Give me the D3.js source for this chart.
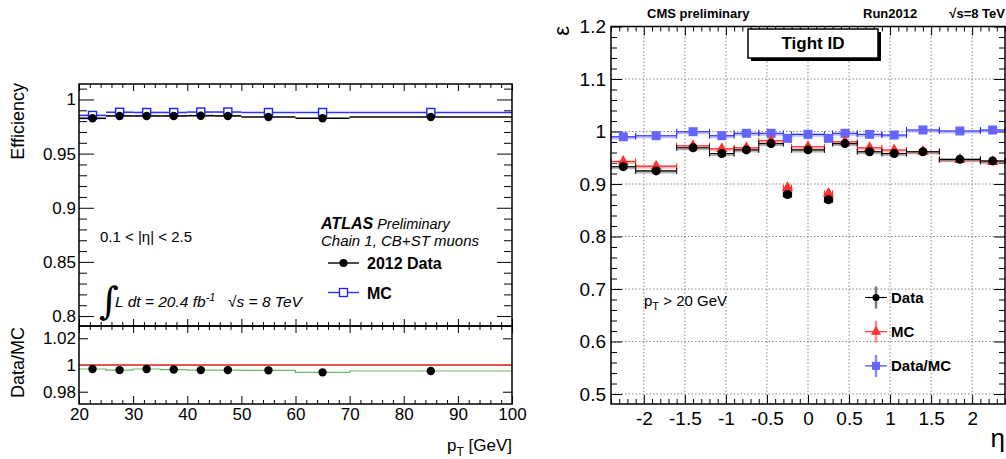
<!DOCTYPE html>
<html><head><meta charset="utf-8">
<script src="https://cdn.jsdelivr.net/npm/d3@7"></script>
<style>
body{margin:0;background:#fff;}
svg{font-family:"Liberation Sans",Arial,Helvetica,sans-serif;}
</style></head>
<body>
<script>
// ---------- Left chart data (ATLAS, efficiency vs pT) ----------
const ptEdges   = [20,25,30,35,40,45,50,60,70,100];
const ptCenters = [22.5,27.5,32.5,37.5,42.5,47.5,55,65,85];
const effData   = [0.9826,0.9848,0.9848,0.9848,0.9850,0.9848,0.9838,0.9826,0.9838];
const effMC     = [0.9853,0.9882,0.9880,0.9880,0.9884,0.9884,0.9880,0.9880,0.9880];
const ratioPt   = [0.9970,0.9962,0.9970,0.9966,0.9962,0.9962,0.9960,0.9945,0.9955];
const ptTicks   = [20,30,40,50,60,70,80,90,100];
const effTicks  = [0.8,0.85,0.9,0.95,1];
const effLabels = ["0.8","0.85","0.9","0.95","1"];
const ratTicks  = [0.98,1,1.02];
const ratLabels = ["0.98","1","1.02"];

// ---------- Right chart data (CMS, efficiency vs eta) ----------
const etaEdges  = [-2.4,-2.1,-1.6,-1.2,-0.9,-0.6,-0.3,-0.2,0.2,0.3,0.6,0.9,1.2,1.6,2.1,2.4];
const etaData   = [0.933,0.925,0.969,0.958,0.965,0.977,0.880,0.965,0.870,0.977,0.9615,0.958,0.9615,0.947,0.944];
const etaMC     = [0.943,0.934,0.973,0.967,0.969,0.9825,0.893,0.971,0.882,0.9805,0.969,0.9648,0.962,0.946,0.9425];
const etaRatio  = [0.990,0.992,0.9996,0.992,0.9966,0.9966,0.987,0.9946,0.987,0.9966,0.9946,0.9933,1.0029,1.001,1.0029];
const etaTicks  = [-2,-1.5,-1,-0.5,0,0.5,1,1.5,2];
const etaLabels = ["-2","-1.5","-1","-0.5","0","0.5","1","1.5","2"];
const epsTicks  = [0.5,0.6,0.7,0.8,0.9,1,1.1,1.2];
const epsLabels = ["0.5","0.6","0.7","0.8","0.9","1","1.1","1.2"];

const svg = d3.select("body").append("svg").attr("width",1006).attr("height",459);

function rng(a,b,step){const n=Math.round((b-a)/step);return d3.range(n+1).map(i=>+(a+i*step).toFixed(6));}
function minorsOf(a,b,step,majors){return rng(a,b,step).filter(v=>!majors.some(m=>Math.abs(m-v)<1e-9));}

// generic inward tick drawer using d3 axes
function axisTicks(g, axisGen, scale, values, len, pos, labels, pad, fs){
  const ax = axisGen(scale).tickValues(values).tickSizeInner(-len).tickSizeOuter(0).tickPadding(pad||0)
    .tickFormat(labels ? ((d,i)=>labels[i]) : "");
  const a = g.append("g").attr("transform",pos).call(ax);
  a.select(".domain").remove();
  a.selectAll("line").attr("stroke","#000").attr("stroke-width",1);
  a.selectAll("text").attr("font-size",fs||17).attr("fill","#000").attr("font-family","'Liberation Sans',Arial,sans-serif");
  a.attr("font-family",null).attr("font-size",null);
  return a;
}

// =================== LEFT =====================
const xL = d3.scaleLinear().domain([20,100]).range([79,512]);
const yT = d3.scaleLinear().domain([0.7908,1.0143]).range([326,84]);
const yB = d3.scaleLinear().domain([0.9708,1.0292]).range([404,326]);
const L = svg.append("g");

// ticks top panel
const ptMin = minorsOf(20,100,2,ptTicks);
axisTicks(L,d3.axisTop,xL,ptTicks,7,"translate(0,84)");
axisTicks(L,d3.axisTop,xL,ptMin,4,"translate(0,84)");
axisTicks(L,d3.axisBottom,xL,ptTicks,7,"translate(0,326)");
axisTicks(L,d3.axisBottom,xL,ptMin,4,"translate(0,326)");
const effMin = minorsOf(0.79,1.01,0.01,effTicks).filter(v=>v>0.7908);
axisTicks(L,d3.axisLeft,yT,effTicks,15,"translate(79,0)",effLabels,3,17);
axisTicks(L,d3.axisLeft,yT,effMin,8,"translate(79,0)");
axisTicks(L,d3.axisRight,yT,effTicks,15,"translate(512,0)");
axisTicks(L,d3.axisRight,yT,effMin,8,"translate(512,0)");
// ticks bottom panel
axisTicks(L,d3.axisTop,xL,ptTicks,7,"translate(0,326)");
axisTicks(L,d3.axisTop,xL,ptMin,4,"translate(0,326)");
axisTicks(L,d3.axisBottom,xL,ptTicks,8,"translate(0,404)",ptTicks.map(String),4,17);
axisTicks(L,d3.axisBottom,xL,ptMin,4,"translate(0,404)");
axisTicks(L,d3.axisLeft,yB,ratTicks,9,"translate(79,0)",ratLabels,3,17);
axisTicks(L,d3.axisRight,yB,ratTicks,9,"translate(512,0)");

// data: horizontal bin lines
const binsL = ptCenters.map((c,i)=>({x0:ptEdges[i],x1:ptEdges[i+1],c,d:effData[i],m:effMC[i],r:ratioPt[i]}));
L.selectAll(".mcl").data(binsL).join("line").attr("x1",d=>xL(d.x0)).attr("x2",d=>xL(d.x1))
  .attr("y1",d=>yT(d.m)).attr("y2",d=>yT(d.m)).attr("stroke","#3030ff").attr("stroke-width",1.6);
L.selectAll(".dl").data(binsL).join("line").attr("x1",d=>xL(d.x0)).attr("x2",d=>xL(d.x1))
  .attr("y1",d=>yT(d.d)).attr("y2",d=>yT(d.d)).attr("stroke","#000").attr("stroke-width",1.6);
L.selectAll(".mcs").data(binsL).join("rect").attr("x",d=>xL(d.c)-4).attr("y",d=>yT(d.m)-4)
  .attr("width",8).attr("height",8).attr("fill","#fff").attr("stroke","#2020ff").attr("stroke-width",1.4);
L.selectAll(".dc").data(binsL).join("circle").attr("cx",d=>xL(d.c)).attr("cy",d=>yT(d.d)).attr("r",4.2).attr("fill","#000");

// ratio panel
L.append("rect").attr("x",79).attr("y",yB(1)).attr("width",433).attr("height",yB(0.9994)-yB(1)).attr("fill","#f6c8c8");
L.append("line").attr("x1",79).attr("x2",512).attr("y1",yB(1)).attr("y2",yB(1)).attr("stroke","#e02020").attr("stroke-width",1.4);
const stepPts=[];binsL.forEach(d=>{stepPts.push([d.x0,d.r]);stepPts.push([d.x1,d.r]);});
L.append("path").datum(stepPts).attr("d",d3.line().x(p=>xL(p[0])).y(p=>yB(p[1])))
  .attr("fill","none").attr("stroke","#66bb66").attr("stroke-width",1.2);
L.selectAll(".rc").data(binsL).join("circle").attr("cx",d=>xL(d.c)).attr("cy",d=>yB(d.r)).attr("r",4.2).attr("fill","#000");

// frames
L.append("rect").attr("x",79).attr("y",84).attr("width",433).attr("height",242).attr("fill","none").attr("stroke","#000").attr("stroke-width",1.5);
L.append("rect").attr("x",79).attr("y",326).attr("width",433).attr("height",78).attr("fill","none").attr("stroke","#000").attr("stroke-width",1.5);

// titles
L.append("text").attr("transform","translate(24,83) rotate(-90)").attr("text-anchor","end").attr("font-size",18).text("Efficiency");
L.append("text").attr("transform","translate(24,327) rotate(-90)").attr("text-anchor","end").attr("font-size",18).text("Data/MC");
const ptT = L.append("text").attr("x",512).attr("y",451).attr("text-anchor","end").attr("font-size",17);
ptT.append("tspan").text("p");ptT.append("tspan").attr("font-size",12).attr("dy",5).text("T");
ptT.append("tspan").attr("dy",-5).text(" [GeV]");

// annotations
L.append("text").attr("x",100).attr("y",242).attr("font-size",15).text("0.1 < |η| < 2.5");
const at = L.append("text").attr("x",321).attr("y",229).attr("font-size",16).attr("font-style","italic");
at.append("tspan").attr("font-weight","bold").text("ATLAS");
at.append("tspan").attr("font-size",14.5).text(" Preliminary");
L.append("text").attr("x",321).attr("y",246).attr("font-size",15).attr("font-style","italic").text("Chain 1, CB+ST muons");
// legend
L.append("line").attr("x1",328).attr("x2",359).attr("y1",263).attr("y2",263).attr("stroke","#000").attr("stroke-width",1.4);
L.append("circle").attr("cx",343.5).attr("cy",263).attr("r",4).attr("fill","#000");
L.append("text").attr("x",367).attr("y",269).attr("font-size",16).attr("font-weight","bold").text("2012 Data");
L.append("line").attr("x1",328).attr("x2",359).attr("y1",292.5).attr("y2",292.5).attr("stroke","#3030ff").attr("stroke-width",1.4);
L.append("rect").attr("x",339.5).attr("y",288.5).attr("width",8).attr("height",8).attr("fill","#fff").attr("stroke","#2020ff").attr("stroke-width",1.3);
L.append("text").attr("x",367).attr("y",298.5).attr("font-size",16).attr("font-weight","bold").text("MC");
// lumi
L.append("text").attr("x",99).attr("y",314).attr("font-size",38).attr("font-family","'DejaVu Serif',serif").attr("font-style","italic").text("∫");
const lu = L.append("text").attr("x",115).attr("y",307).attr("font-size",15.5).attr("font-style","italic");
lu.append("tspan").text("L dt = 20.4 fb");
lu.append("tspan").attr("font-size",11).attr("dy",-6).text("-1");
lu.append("tspan").attr("dy",6).attr("x",228).text("√");
lu.append("tspan").text("s = 8 TeV");

// =================== RIGHT =====================
const xR = d3.scaleLinear().domain([-2.4,2.4]).range([611,1005]);
const yR = d3.scaleLinear().domain([0.481,1.2]).range([404,26.5]);
const R = svg.append("g");

// grid
R.selectAll(".gx").data(etaTicks).join("line").attr("x1",d=>xR(d)).attr("x2",d=>xR(d)).attr("y1",26.5).attr("y2",404)
  .attr("stroke","#888").attr("stroke-width",1).attr("stroke-dasharray","1.5,2");
R.selectAll(".gy").data(epsTicks.slice(0,-1)).join("line").attr("x1",611).attr("x2",1005).attr("y1",d=>yR(d)).attr("y2",d=>yR(d))
  .attr("stroke","#888").attr("stroke-width",1).attr("stroke-dasharray","1.5,2");

const etaMin = minorsOf(-2.4,2.4,0.1,etaTicks);
const epsMin = minorsOf(0.5,1.2,0.02,epsTicks);
axisTicks(R,d3.axisBottom,xR,etaTicks,9,"translate(0,404)",etaLabels,8,19);
axisTicks(R,d3.axisBottom,xR,etaMin,5,"translate(0,404)");
axisTicks(R,d3.axisTop,xR,etaTicks,9,"translate(0,26.5)");
axisTicks(R,d3.axisTop,xR,etaMin,5,"translate(0,26.5)");
axisTicks(R,d3.axisLeft,yR,epsTicks,11,"translate(611,0)",epsLabels,5,19);
axisTicks(R,d3.axisLeft,yR,epsMin,6,"translate(611,0)");
axisTicks(R,d3.axisRight,yR,epsTicks,11,"translate(1005,0)");
axisTicks(R,d3.axisRight,yR,epsMin,6,"translate(1005,0)");

const binsR = etaData.map((v,i)=>({x0:etaEdges[i],x1:etaEdges[i+1],c:(etaEdges[i]+etaEdges[i+1])/2,d:v,m:etaMC[i],r:etaRatio[i]}));
function hbars(key,col,light){
  R.selectAll(".hb"+key).data(binsR).join("line").attr("x1",d=>xR(d.x0)).attr("x2",d=>xR(d.x1))
    .attr("y1",d=>yR(d[key])+1).attr("y2",d=>yR(d[key])+1).attr("stroke",light).attr("stroke-width",3).attr("opacity",0.55);
  R.selectAll(".hl"+key).data(binsR).join("line").attr("x1",d=>xR(d.x0)).attr("x2",d=>xR(d.x1))
    .attr("y1",d=>yR(d[key])).attr("y2",d=>yR(d[key])).attr("stroke",col).attr("stroke-width",1.1);
  ["x0","x1"].forEach(e=>{
    R.selectAll(".cap"+key+e).data(binsR).join("line").attr("x1",d=>xR(d[e])).attr("x2",d=>xR(d[e]))
      .attr("y1",d=>yR(d[key])-3).attr("y2",d=>yR(d[key])+3).attr("stroke",col).attr("stroke-width",1);
  });
}
hbars("r","#2a2aff","#8888ff");
hbars("m","#ff2020","#ff8a8a");
hbars("d","#000","#777");

// markers
R.selectAll(".sq").data(binsR).join("rect").attr("x",d=>xR(d.c)-4.5).attr("y",d=>yR(d.r)-4.5)
  .attr("width",9).attr("height",9).attr("fill","#6464ff");
const tri = d3.symbol().type(d3.symbolTriangle).size(55);
R.selectAll(".tr").data(binsR).join("path").attr("d",tri).attr("transform",d=>`translate(${xR(d.c)},${yR(d.m)})`).attr("fill","#ff3030");
R.selectAll(".dt").data(binsR).join("circle").attr("cx",d=>xR(d.c)).attr("cy",d=>yR(d.d)).attr("r",4.5).attr("fill","#000");

R.append("rect").attr("x",611).attr("y",26.5).attr("width",394).attr("height",377.5).attr("fill","none").attr("stroke","#000").attr("stroke-width",1.5);

// Tight ID box
R.append("rect").attr("x",751).attr("y",32).attr("width",130).attr("height",29).attr("fill","#000");
R.append("rect").attr("x",748).attr("y",29).attr("width",130).attr("height",29).attr("fill","#fff").attr("stroke","#000").attr("stroke-width",1.5);
R.append("text").attr("x",813).attr("y",49).attr("text-anchor","middle").attr("font-size",17).attr("font-weight","bold").text("Tight ID");

// header texts
R.append("text").attr("x",647).attr("y",18).attr("font-size",13).attr("font-weight","bold").text("CMS preliminary");
R.append("text").attr("x",863).attr("y",18).attr("font-size",13).attr("font-weight","bold").text("Run2012");
R.append("text").attr("x",1005).attr("y",18).attr("text-anchor","end").attr("font-size",13).attr("font-weight","bold").text("√s=8 TeV");

// axis titles
R.append("text").attr("transform","translate(569,26) rotate(-90)").attr("text-anchor","end").attr("font-size",22).text("ε");
R.append("text").attr("x",1005).attr("y",447).attr("text-anchor","end").attr("font-size",26).text("η");

// pT annotation
const pa = R.append("text").attr("x",644).attr("y",306).attr("font-size",15);
pa.append("tspan").text("p");pa.append("tspan").attr("font-size",11).attr("dy",4).text("T");
pa.append("tspan").attr("dy",-4).text(" > 20 GeV");

// legend
const legR = [
  {name:"Data", col:"#000", light:"#777", shape:"c"},
  {name:"MC", col:"#ff2020", light:"#ff8a8a", shape:"t"},
  {name:"Data/MC", col:"#2a2aff", light:"#8888ff", shape:"s"}];
legR.forEach((e,i)=>{
  const y = 297.5 + i*34.2, x = 876;
  R.append("line").attr("x1",x).attr("x2",x).attr("y1",y-11).attr("y2",y+11).attr("stroke",e.light).attr("stroke-width",2.5);
  R.append("line").attr("x1",865).attr("x2",887).attr("y1",y).attr("y2",y).attr("stroke",e.col).attr("stroke-width",1.1);
  if(e.shape==="c") R.append("circle").attr("cx",x).attr("cy",y).attr("r",3.5).attr("fill","#000");
  if(e.shape==="t") R.append("path").attr("d",d3.symbol().type(d3.symbolTriangle).size(45)).attr("transform",`translate(${x},${y})`).attr("fill","#ff3030");
  if(e.shape==="s") R.append("rect").attr("x",x-4).attr("y",y-4).attr("width",8).attr("height",8).attr("fill","#6464ff");
  R.append("text").attr("x",891).attr("y",y+5.5).attr("font-size",15).attr("font-weight","bold").text(e.name);
});
</script>
</body></html>
